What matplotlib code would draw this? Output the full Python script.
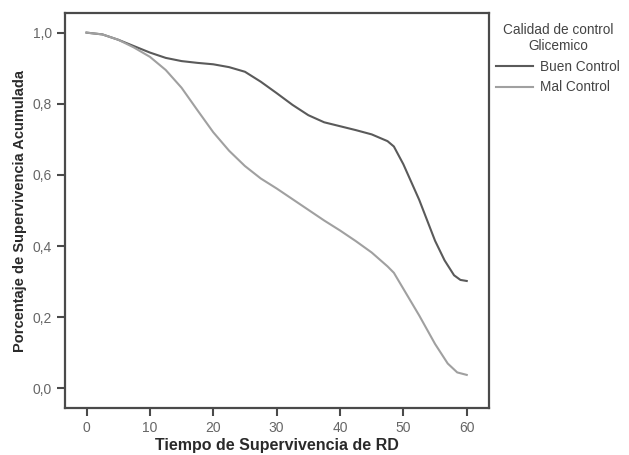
import matplotlib
matplotlib.use("Agg")
import matplotlib.pyplot as plt

plt.rcParams['font.family'] = ['Liberation Sans', 'DejaVu Sans']

tiempo_buen = [0, 2.5, 5, 7.5, 10, 12.5, 15, 17.5, 20, 22.5, 25, 27.5, 30,
               32.5, 35, 37.5, 40, 42.5, 45, 47.5, 48.5, 50, 52.5, 55,
               56.5, 58, 59, 60]
buen_control = [1.0, 0.995, 0.98, 0.962, 0.944, 0.929, 0.92, 0.915, 0.911,
                0.903, 0.89, 0.862, 0.83, 0.797, 0.768, 0.748, 0.737,
                0.726, 0.714, 0.695, 0.68, 0.63, 0.53, 0.415, 0.36, 0.318,
                0.305, 0.302]

tiempo_mal = [0, 2.5, 5, 7.5, 10, 12.5, 15, 17.5, 20, 22.5, 25, 27.5, 30,
              32.5, 35, 37.5, 40, 42.5, 45, 47.5, 48.5, 50, 52.5, 55, 57,
              58.5, 60]
mal_control = [1.0, 0.995, 0.98, 0.958, 0.932, 0.895, 0.845, 0.782, 0.72,
               0.668, 0.625, 0.59, 0.562, 0.532, 0.502, 0.472, 0.444, 0.414,
               0.382, 0.343, 0.325, 0.28, 0.205, 0.125, 0.07, 0.045, 0.038]

x_ticks = [0, 10, 20, 30, 40, 50, 60]
y_ticks = [0.0, 0.2, 0.4, 0.6, 0.8, 1.0]
y_labels = ["0,0", "0,2", "0,4", "0,6", "0,8", "1,0"]

fig = plt.figure(figsize=(6.29, 4.55), dpi=100)
ax = fig.add_axes([0.1033, 0.1033, 0.674, 0.868])

ax.plot(tiempo_buen, buen_control, color="#5a5a5a", lw=1.5,
        label="Buen Control", solid_joinstyle="round")
ax.plot(tiempo_mal, mal_control, color="#a0a0a0", lw=1.5,
        label="Mal Control", solid_joinstyle="round")

ax.set(
    xlim=(-3.4, 63.5),
    ylim=(-0.055, 1.055),
)
ax.set_xticks(x_ticks)
ax.set_yticks(y_ticks)
ax.set_yticklabels(y_labels)

for spine in ax.spines.values():
    spine.set_color("#4a4a4a")
    spine.set_linewidth(1.6)

ax.tick_params(direction="out", length=6, width=1.5, color="#4a4a4a",
               labelcolor="#666666", labelsize=10)

ax.set_xlabel("Tiempo de Supervivencia de RD", fontsize=11.5,
              fontweight="bold", color="#2a2a2a", labelpad=2)
ax.set_ylabel("Porcentaje de Supervivencia Acumulada", fontsize=10.5,
              fontweight="bold", color="#2a2a2a", labelpad=4)

leg = ax.legend(loc="upper left", bbox_to_anchor=(0.995, 1.0),
                frameon=False, fontsize=9.8, handlelength=2.7,
                handletextpad=0.5, labelspacing=0.5, borderaxespad=0.3,
                title="Calidad de control\nGlicemico", title_fontsize=9.8)
leg.get_title().set_multialignment("center")
leg.get_title().set_color("#444444")
for t in leg.get_texts():
    t.set_color("#444444")

fig.savefig("out.png", dpi=100)
